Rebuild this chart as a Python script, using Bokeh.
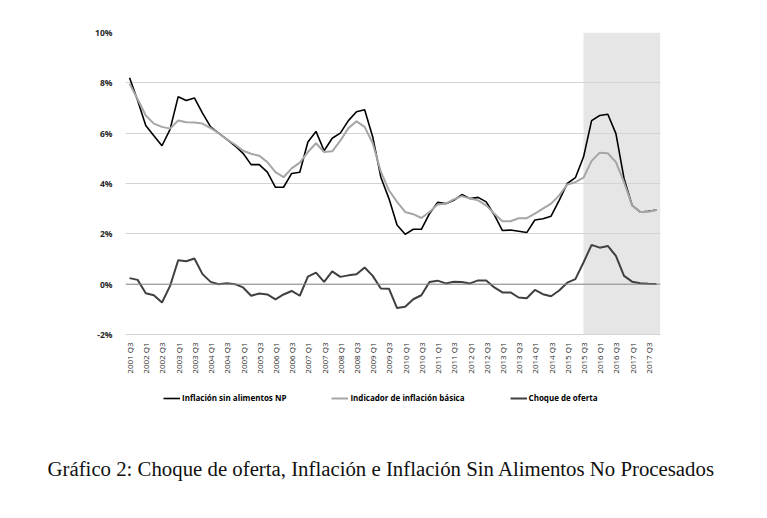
import math
from bokeh.plotting import figure
from bokeh.layouts import column
from bokeh.models import (FixedTicker, PrintfTickFormatter, Span, BoxAnnotation,
                          Legend, LegendItem, Title, ColumnDataSource)
from bokeh.embed import file_html
from bokeh.resources import INLINE

# ---------------- data ----------------
quarters = [f"{y} Q{q}" for y in range(2001, 2018) for q in range(1, 5)][2:]  # 2001 Q3 .. 2017 Q4

infl_sin_alim_np = [8.2, 7.3, 6.3, 5.9, 5.5, 6.15, 7.45, 7.3, 7.4, 6.8,
                    6.25, 6.0, 5.75, 5.5, 5.2, 4.75, 4.75, 4.45, 3.85, 3.85,
                    4.4, 4.45, 5.65, 6.07, 5.3, 5.8, 6.0, 6.5, 6.85, 6.93,
                    5.85, 4.25, 3.4, 2.35, 1.98, 2.18, 2.18, 2.8, 3.25, 3.2,
                    3.33, 3.56, 3.4, 3.45, 3.27, 2.75, 2.13, 2.15, 2.1, 2.05,
                    2.55, 2.6, 2.7, 3.33, 4.0, 4.23, 5.05, 6.5, 6.7, 6.75,
                    5.98, 4.2, 3.13, 2.87, 2.9, 2.95]

infl_basica = [7.97, 7.35, 6.7, 6.38, 6.25, 6.18, 6.5, 6.43, 6.42, 6.38,
               6.2, 6.0, 5.75, 5.55, 5.3, 5.18, 5.1, 4.85, 4.45, 4.25,
               4.6, 4.83, 5.25, 5.6, 5.25, 5.28, 5.7, 6.2, 6.47, 6.25,
               5.6, 4.47, 3.73, 3.27, 2.87, 2.78, 2.63, 2.87, 3.17, 3.2,
               3.37, 3.5, 3.4, 3.33, 3.13, 2.8, 2.5, 2.5, 2.62, 2.62,
               2.8, 3.0, 3.2, 3.53, 3.96, 4.05, 4.23, 4.9, 5.22, 5.2,
               4.85, 4.05, 3.13, 2.87, 2.88, 2.95]

choque_oferta = [0.24, 0.17, -0.36, -0.44, -0.73, -0.07, 0.95, 0.91, 1.02, 0.4,
                 0.09, 0.0, 0.04, 0.0, -0.13, -0.46, -0.37, -0.41, -0.6, -0.41,
                 -0.27, -0.46, 0.3, 0.46, 0.09, 0.51, 0.29, 0.35, 0.39, 0.66,
                 0.33, -0.17, -0.18, -0.95, -0.9, -0.6, -0.44, 0.09, 0.14, 0.03,
                 0.1, 0.09, 0.03, 0.15, 0.15, -0.13, -0.33, -0.33, -0.53, -0.56,
                 -0.23, -0.4, -0.48, -0.25, 0.06, 0.2, 0.86, 1.56, 1.45, 1.52,
                 1.12, 0.33, 0.1, 0.04, 0.02, 0.01]

y_ticks = [-2, 0, 2, 4, 6, 8, 10]
shade_from = "2015 Q3"

series_names = ["Inflación sin alimentos NP", "Indicador de inflación básica", "Choque de oferta"]
caption = "Gráfico 2: Choque de oferta, Inflación e Inflación Sin Alimentos No Procesados"

# ---------------- layout constants ----------------
PLOT_PX = 302           # pixel height of the -2%..10% band
FRAME_H = 423           # frame extends below to host the axis labels and legend
y_top = y_ticks[-1]
y_bottom = y_top - FRAME_H * (y_ticks[-1] - y_ticks[0]) / PLOT_PX

# ---------------- chart ----------------
idx = list(range(len(quarters)))
src = ColumnDataSource(dict(x=idx, a=infl_sin_alim_np, b=infl_basica, c=choque_oferta))

p = figure(frame_width=535, frame_height=FRAME_H, output_backend="svg", toolbar_location=None,
           x_range=(-0.5, len(quarters) - 0.5), y_range=(y_bottom, y_top),
           min_border_left=125, min_border_right=90, min_border_top=32, min_border_bottom=0)
p.outline_line_color = None
p.background_fill_color = "white"

# shaded period
shade = BoxAnnotation(left=quarters.index(shade_from), bottom=y_ticks[0],
                      fill_color="#E6E6E6", fill_alpha=1.0, line_color=None, level="image")
p.add_layout(shade)

# grid
p.xgrid.visible = False
p.ygrid.ticker = FixedTicker(ticks=y_ticks)
p.ygrid.grid_line_color = "#D4D4D4"
p.ygrid.grid_line_width = 1

# zero axis line
p.add_layout(Span(location=0, dimension="width", line_color="#8C8C8C", line_width=1))

r1 = p.line("x", "a", source=src, line_color="#000000", line_width=1.6)
r2 = p.line("x", "b", source=src, line_color="#A6A6A6", line_width=2.0)
r3 = p.line("x", "c", source=src, line_color="#404040", line_width=2.0)

# y axis
p.yaxis.ticker = FixedTicker(ticks=y_ticks)
p.yaxis.formatter = PrintfTickFormatter(format="%d%%")
p.yaxis.axis_line_color = None
p.yaxis.major_tick_line_color = None
p.yaxis.minor_tick_line_color = None
p.yaxis.major_label_standoff = 7
p.yaxis.major_label_text_font = "Open Sans"
p.yaxis.major_label_text_font_size = "8.5px"
p.yaxis.major_label_text_color = "#262626"
p.yaxis.major_label_text_font_style = "bold"

# x axis, pinned at the -2% line
p.xaxis.fixed_location = y_ticks[0]
p.xaxis.ticker = FixedTicker(ticks=idx[::2])
p.xaxis.major_label_overrides = {i: quarters[i] for i in idx[::2]}
p.xaxis.major_label_orientation = math.pi / 2
p.xaxis.axis_line_color = None
p.xaxis.major_tick_line_color = None
p.xaxis.minor_tick_line_color = None
p.xaxis.major_label_standoff = 2
p.xaxis.major_label_text_font = "Open Sans"
p.xaxis.major_label_text_font_size = "8px"
p.xaxis.major_label_text_color = "#262626"

# legend
legend = Legend(items=[LegendItem(label=series_names[0], renderers=[r1]),
                       LegendItem(label=series_names[1], renderers=[r2]),
                       LegendItem(label=series_names[2], renderers=[r3])],
                orientation="horizontal", location=(38, 52),
                label_text_font="Open Sans", label_text_font_size="8px",
                label_text_font_style="bold",
                label_text_color="#000000", label_standoff=2, label_height=10,
                glyph_width=17, glyph_height=10, spacing=45, padding=0,
                margin=0, border_line_color=None, background_fill_alpha=0)
p.add_layout(legend)

# ---------------- caption ----------------
cap_fig = figure(width=767, height=50, output_backend="svg", toolbar_location=None,
                 x_axis_location=None, y_axis_location=None,
                 min_border_left=0, min_border_right=0, min_border_top=0, min_border_bottom=0)
cap_fig.outline_line_color = None
cap_fig.grid.visible = False
cap_fig.add_layout(Title(text=caption, align="left", offset=-78, standoff=0,
                         vertical_align="middle",
                         text_font="Liberation Serif", text_font_size="20.8px",
                         text_font_style="normal", text_color="#111111"), "above")

page = column(p, cap_fig, spacing=0)
open("out.html", "w").write(file_html(page, INLINE))
